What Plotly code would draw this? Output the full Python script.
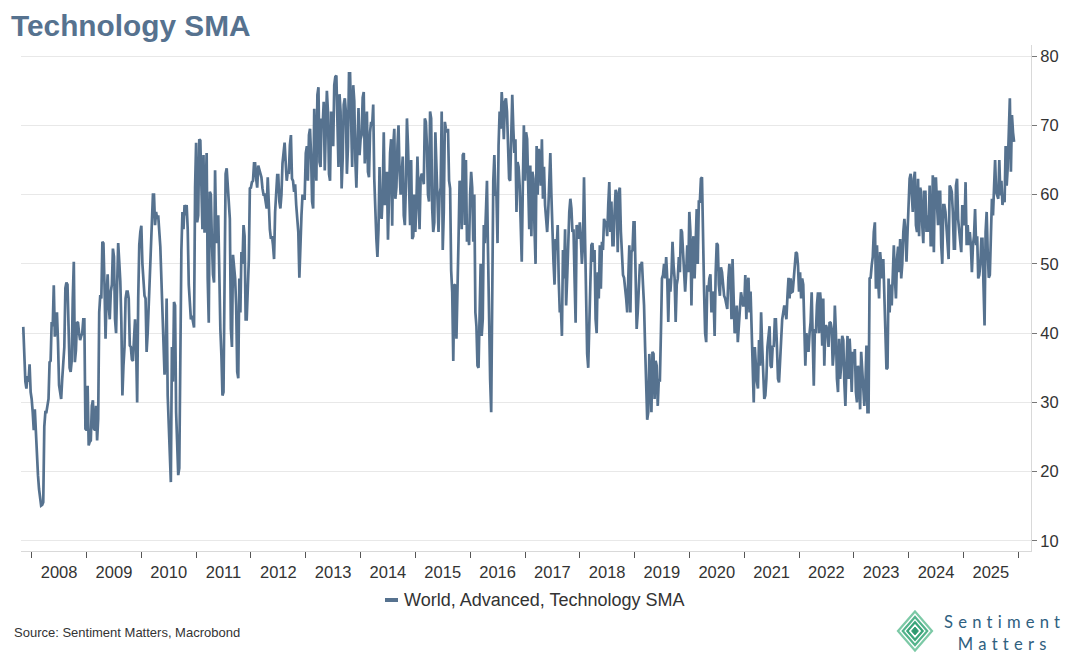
import plotly.graph_objects as go
import pandas as pd

# ---------------- data ----------------
years = list(range(2007, 2026))

# fortnightly readings (start of each fortnight)
v2007 = [40.9, 33.0, 33.8, 35.5]
v2008 = [30.5, 26.0, 25.5, 19.5, 16.2, 15.2, 26.5, 28.6, 30.5, 36.0, 41.0, 39.5, 43.0,
         32.5, 30.5, 36.0, 46.5, 47.0, 35.0, 36.0, 50.3, 37.5, 41.5, 39.0, 40.0, 42.0]
v2009 = [26.0, 23.8, 24.5, 30.3, 26.0, 24.5, 43.0, 45.0, 53.0, 39.2, 48.5, 42.0, 47.0,
         51.0, 40.0, 53.0, 47.5, 31.0, 38.0, 46.0, 45.0, 38.0, 36.0, 42.0, 30.0, 52.7]
v2010 = [55.5, 47.5, 45.0, 40.0, 50.0, 58.0, 60.0, 57.5, 57.0, 52.5, 44.0, 34.0, 45.0,
         27.0, 18.5, 33.0, 44.0, 22.0, 20.5, 52.0, 55.0, 57.0, 55.0, 45.0, 42.5, 40.8]
v2011 = [67.5, 57.0, 67.8, 55.0, 54.5, 66.0, 41.5, 60.0, 48.5, 63.5, 53.0, 47.0, 36.8,
         31.5, 63.0, 61.0, 56.5, 38.0, 50.0, 44.0, 33.5, 43.0, 50.0, 54.0, 42.0, 50.5]
v2012 = [61.0, 62.0, 64.5, 61.0, 63.5, 62.5, 60.0, 58.5, 62.5, 55.0, 54.0, 50.7, 60.0,
         62.8, 58.0, 64.5, 67.5, 62.0, 63.0, 68.6, 62.0, 61.5, 57.0, 48.0, 57.0, 59.4]
v2013 = [66.0, 62.0, 69.5, 59.0, 72.4, 62.0, 75.5, 64.0, 70.0, 63.5, 75.0, 63.0, 72.0,
         67.0, 77.0, 67.0, 74.5, 60.9, 73.0, 72.0, 67.0, 77.5, 64.0, 73.5, 61.0, 72.5]
v2014 = [68.0, 74.0, 64.5, 72.0, 62.5, 70.5, 73.0, 56.0, 51.0, 64.0, 56.5, 69.0, 60.0,
         53.5, 66.0, 55.5, 69.5, 61.0, 70.0, 60.0, 65.5, 55.6, 71.0, 60.5, 65.0, 54.0]
v2015 = [54.6, 65.5, 55.0, 63.0, 61.5, 70.5, 60.0, 72.0, 58.0, 56.0, 64.0, 54.6, 61.0,
         52.0, 70.5, 69.0, 62.0, 49.0, 36.0, 47.0, 45.0, 62.0, 55.0, 66.0, 65.0, 55.0]
v2016 = [60.0, 61.0, 60.0, 41.0, 35.0, 50.0, 42.0, 53.0, 62.0, 38.0, 28.6, 62.0, 60.0,
         53.0, 72.0, 74.8, 68.0, 73.9, 66.6, 62.0, 74.4, 66.0, 57.5, 64.0, 57.0, 61.0]
v2017 = [62.0, 68.0, 55.0, 54.0, 62.3, 50.0, 60.0, 65.0, 68.0, 64.0, 56.0, 57.5, 66.0,
         54.0, 47.0, 52.0, 47.5, 44.0, 52.0, 55.0, 48.0, 57.5, 58.0, 55.0, 41.5, 55.0]
v2018 = [56.0, 50.0, 62.5, 45.0, 35.0, 47.0, 53.0, 52.0, 40.0, 45.0, 46.4, 52.0, 56.0,
         54.0, 61.8, 59.0, 52.7, 60.7, 51.7, 61.0, 50.3, 48.0, 45.0, 50.0, 43.0, 52.0]
v2019 = [56.0, 40.6, 46.0, 49.8, 47.0, 38.0, 27.5, 37.0, 28.6, 37.0, 36.0, 29.5, 33.0,
         47.9, 50.0, 51.0, 41.6, 46.0, 53.2, 47.9, 47.0, 51.0, 55.0, 52.0, 46.0, 52.7]
v2020 = [57.5, 44.0, 54.0, 53.0, 50.0, 59.0, 62.5, 46.0, 38.7, 46.0, 48.5, 46.0, 39.6,
         53.0, 47.0, 49.5, 47.0, 45.0, 43.5, 50.0, 42.0, 46.0, 40.5, 38.7, 44.5, 45.0]
v2021 = [44.0, 42.0, 48.0, 46.0, 35.3, 38.0, 33.0, 39.0, 43.0, 33.4, 31.0, 38.0, 41.0,
         35.0, 38.0, 42.0, 33.4, 36.0, 42.0, 44.0, 42.0, 48.0, 47.9, 46.0, 50.7, 51.5]
v2022 = [46.0, 45.0, 47.0, 35.3, 39.0, 40.0, 45.9, 32.4, 40.0, 45.9, 45.9, 38.2, 35.3,
         41.0, 38.0, 41.5, 35.3, 44.0, 33.4, 39.2, 35.3, 39.0, 29.5, 39.6, 39.2, 31.5]
v2023 = [36.0, 31.5, 35.3, 29.0, 35.0, 29.5, 38.2, 28.6, 48.0, 51.0, 56.0, 52.7, 45.0,
         49.8, 50.7, 41.0, 35.0, 43.0, 44.0, 52.7, 45.0, 52.5, 53.6, 50.0, 56.5, 50.3]
v2024 = [58.5, 63.0, 57.5, 63.3, 54.6, 54.0, 60.4, 53.0, 60.4, 57.0, 61.3, 52.7, 51.7,
         62.3, 55.6, 60.4, 50.0, 58.5, 55.0, 50.7, 61.0, 57.5, 52.2, 62.3, 54.6, 51.7]
v2025 = [56.0, 61.8, 55.6, 54.6, 48.8, 54.0, 52.7, 47.9, 50.0, 53.6, 41.1, 57.5, 48.0,
         54.6, 57.0, 65.0, 60.0, 65.0, 62.0, 60.0, 67.0, 64.0, 73.9, 71.5, 67.6]

# mid-fortnight readings (one week after each reading above)
m2007 = [35.5, 32.0, 33.0, 31.5]
m2008 = [28.6, 29.0, 24.0, 17.5, 15.1, 15.6, 28.6, 29.5, 35.8, 41.6, 46.9, 41.6, 38.7,
         31.5, 33.4, 38.0, 47.3, 38.0, 34.4, 45.0, 35.8, 41.6, 40.0, 39.6, 42.0, 26.2]
m2009 = [32.4, 24.3, 29.5, 26.2, 29.5, 27.6, 45.5, 53.2, 47.0, 45.4, 44.0, 46.0, 52.2,
         42.0, 46.9, 50.3, 41.6, 35.3, 45.0, 46.0, 38.2, 36.2, 39.2, 38.0, 45.0, 54.6]
m2010 = [50.0, 45.4, 37.3, 44.0, 54.6, 60.0, 55.6, 56.5, 54.6, 47.9, 38.2, 36.0, 31.0,
         21.3, 38.0, 44.5, 28.6, 19.5, 38.2, 57.5, 58.5, 58.5, 47.0, 42.0, 41.6, 61.0]
m2011 = [56.0, 68.0, 61.3, 65.7, 60.0, 47.9, 60.4, 53.2, 47.3, 54.6, 57.0, 40.6, 31.0,
         52.7, 63.8, 60.0, 40.6, 51.3, 47.9, 34.4, 47.9, 51.7, 55.6, 42.0, 45.9, 60.9]
m2012 = [61.8, 64.5, 62.3, 64.2, 63.3, 60.9, 60.0, 58.0, 58.5, 53.6, 52.7, 57.5, 62.8,
         59.0, 60.0, 66.2, 64.7, 63.3, 67.1, 62.3, 60.4, 58.5, 54.6, 54.6, 60.0, 59.4]
m2013 = [67.0, 68.6, 65.7, 58.0, 67.0, 74.4, 64.7, 71.0, 73.4, 69.5, 72.0, 62.0, 69.5,
         75.8, 77.2, 64.0, 72.0, 65.2, 73.9, 63.0, 77.5, 67.1, 75.8, 65.0, 67.1, 65.7]
m2014 = [68.6, 74.8, 68.0, 63.3, 69.0, 70.0, 62.3, 53.6, 55.0, 57.5, 60.0, 58.5, 63.3,
         60.0, 68.0, 67.0, 59.4, 67.0, 63.3, 62.8, 57.0, 61.3, 67.0, 55.6, 53.6, 60.0]
m2015 = [58.5, 60.0, 62.3, 62.8, 71.0, 67.1, 59.0, 71.0, 54.6, 69.0, 58.5, 60.0, 72.0,
         57.5, 69.5, 69.5, 60.9, 45.9, 46.9, 39.2, 53.6, 61.3, 65.7, 55.6, 53.2, 52.7]
m2016 = [63.3, 53.2, 43.0, 35.3, 43.0, 39.6, 55.6, 57.5, 51.7, 33.4, 43.0, 65.7, 60.0,
         67.1, 69.5, 72.0, 73.4, 72.0, 62.3, 69.5, 69.5, 68.0, 64.7, 61.3, 50.3, 70.0]
m2017 = [69.0, 62.3, 64.2, 63.3, 55.0, 67.0, 66.6, 61.3, 59.4, 58.5, 54.6, 61.3, 60.0,
         50.3, 53.6, 55.6, 43.0, 39.6, 47.9, 44.0, 53.6, 59.4, 54.6, 47.9, 55.6, 53.6]
m2018 = [53.6, 52.7, 53.6, 37.0, 43.0, 52.7, 50.3, 42.0, 48.8, 52.7, 53.2, 56.5, 56.0,
         58.5, 54.6, 52.7, 57.5, 59.4, 60.4, 54.6, 48.4, 46.9, 43.0, 52.7, 51.7, 56.0]
m2019 = [47.9, 43.0, 49.8, 50.3, 44.0, 30.0, 28.6, 33.4, 37.3, 30.5, 35.3, 33.4, 40.0,
         48.4, 47.9, 47.9, 47.9, 48.4, 49.8, 41.6, 47.9, 48.8, 54.6, 50.3, 48.8, 48.8]
m2020 = [54.6, 52.7, 47.9, 57.9, 59.0, 62.3, 50.3, 40.0, 46.9, 47.9, 43.0, 45.4, 48.8,
         52.7, 45.4, 48.8, 45.4, 44.0, 47.9, 47.9, 50.7, 40.0, 44.0, 41.6, 45.9, 44.0]
m2021 = [48.4, 47.0, 43.0, 40.0, 30.0, 35.3, 32.0, 35.3, 38.2, 30.5, 33.4, 39.6, 35.3,
         38.2, 42.0, 38.2, 32.9, 39.2, 43.0, 43.0, 45.4, 45.0, 45.9, 47.9, 51.7, 49.8]
m2022 = [48.8, 47.9, 40.6, 40.0, 37.3, 41.6, 35.8, 40.6, 44.0, 40.0, 44.0, 45.0, 41.1,
         40.0, 41.6, 40.6, 37.3, 40.0, 31.5, 33.4, 39.6, 32.9, 35.3, 33.4, 36.3, 37.3]
m2023 = [37.7, 30.0, 33.9, 37.3, 33.4, 32.4, 28.6, 47.9, 49.8, 54.6, 46.4, 47.9, 51.7,
         47.9, 45.0, 34.8, 47.9, 47.0, 50.3, 47.9, 50.7, 48.8, 47.9, 54.6, 54.6, 54.6]
m2024 = [62.3, 60.0, 62.3, 55.6, 62.3, 61.0, 55.6, 60.4, 54.6, 54.6, 52.7, 62.8, 62.3,
         58.5, 60.4, 52.7, 58.5, 57.5, 53.6, 61.3, 60.4, 52.2, 61.3, 56.5, 52.7, 58.5]
m2025 = [55.6, 52.7, 52.7, 52.7, 52.7, 57.9, 54.0, 48.4, 53.6, 46.9, 54.6, 51.7, 48.4,
         59.4, 61.3, 60.4, 59.4, 59.9, 58.5, 58.9, 61.3, 69.5, 63.3, 69.0]

start_readings = [v2007, v2008, v2009, v2010, v2011, v2012, v2013, v2014, v2015, v2016,
                  v2017, v2018, v2019, v2020, v2021, v2022, v2023, v2024, v2025]
mid_readings = [m2007, m2008, m2009, m2010, m2011, m2012, m2013, m2014, m2015, m2016,
                m2017, m2018, m2019, m2020, m2021, m2022, m2023, m2024, m2025]

series_name = "World, Advanced, Technology SMA"
title_text = "Technology SMA"
source_text = "Source: Sentiment Matters, Macrobond"
logo_lines = ["Sentiment", "Matters"]
y_ticks = [10, 20, 30, 40, 50, 60, 70, 80]

# 26 fortnights per year (plus mid-fortnight readings); 2007 holds only its last weeks
STEP = 365.25 / 26
dates, values = [], []
for y, vs, ms in zip(years, start_readings, mid_readings):
    off = 26 - len(vs) if y == years[0] else 0
    base = pd.Timestamp(f"{y}-01-01")
    for k, v in enumerate(vs):
        dates.append(base + pd.Timedelta(days=(off + k) * STEP))
        values.append(v)
        if k < len(ms):
            dates.append(base + pd.Timedelta(days=(off + k + 0.5) * STEP))
            values.append(ms[k])

# ---------------- styling ----------------
W, H = 1072, 660
L, R, T, B = 21, 1031, 45, 551          # plot area in pixels
LINE = "#56728f"
FONT = "Liberation Sans, Arial, sans-serif"


def px(xp):
    return (xp - L) / (R - L)


def py(yp):
    return (B - yp) / (B - T)


fig = go.Figure()
fig.add_trace(go.Scatter(x=dates, y=values, mode="lines", name=series_name,
                         line=dict(color=LINE, width=2.7), showlegend=False))

fig.update_layout(
    width=W, height=H,
    margin=dict(l=L, r=W - R, t=T, b=H - B, pad=0),
    paper_bgcolor="white", plot_bgcolor="white",
    font=dict(family=FONT, color="#333333"),
    title=dict(text=f"<b>{title_text}</b>", font=dict(size=29.8, color=LINE, family=FONT),
               x=11 / W, xanchor="left", xref="container",
               y=1 - 25.5 / H, yanchor="middle", yref="container"),
    xaxis=dict(type="date", range=["2007-10-22", "2026-03-27"],
               tick0="2008-01-01", dtick="M12", ticklabelmode="period", tickformat="%Y",
               ticks="outside", ticklen=6, tickcolor="#555555", tickwidth=1,
               showline=True, linecolor="#d9d9d9", linewidth=1,
               showgrid=False, zeroline=False,
               tickfont=dict(size=16.5, color="#333333", family=FONT)),
    yaxis=dict(side="right", range=[8.55, 81.6], tickvals=y_ticks,
               ticks="outside", ticklen=5, tickcolor="#777777", tickwidth=1,
               showline=True, linecolor="#d9d9d9", linewidth=1,
               showgrid=True, gridcolor="#e8e8e8", gridwidth=1, zeroline=False,
               tickfont=dict(size=16.5, color="#333333", family=FONT)),
)

shapes = []
annotations = []

# legend (symbol + label)
shapes.append(dict(type="line", xref="paper", yref="paper",
                   x0=px(385), x1=px(398), y0=py(600), y1=py(600),
                   line=dict(color=LINE, width=4)))
annotations.append(dict(text=series_name, xref="paper", yref="paper",
                        x=px(402), y=py(600), xanchor="left", yanchor="middle",
                        showarrow=False, font=dict(size=18, color="#333333", family=FONT)))

# source
annotations.append(dict(text=source_text, xref="paper", yref="paper",
                        x=px(12), y=py(632), xanchor="left", yanchor="middle",
                        showarrow=False, font=dict(size=13, color="#333333", family=FONT)))

# logo: nested diamonds
cx, cy, hw, hh = 915, 631, 17, 19.5


def diamond(scale):
    w, h = hw * scale, hh * scale
    return (f"M {px(cx)} {py(cy - h)} L {px(cx + w)} {py(cy)} "
            f"L {px(cx)} {py(cy + h)} L {px(cx - w)} {py(cy)} Z")


for sc, col in [(1.0, "#7cc9a6"), (0.72, "#52b38b"), (0.45, "#3aa57a")]:
    shapes.append(dict(type="path", xref="paper", yref="paper", path=diamond(sc),
                       line=dict(color=col, width=2.2), fillcolor="rgba(0,0,0,0)"))
shapes.append(dict(type="path", xref="paper", yref="paper", path=diamond(0.2),
                   line=dict(color="#2f9a70", width=1), fillcolor="#2f9a70"))

# logo wordmark (letter-spaced, two centred lines in one text block)
sp = "\u2005\u200a"
logo_text = "<br>".join(sp.join(w) for w in logo_lines)
annotations.append(dict(text=logo_text, xref="paper", yref="paper",
                        x=px(1002), y=py(632.5), xanchor="center", yanchor="middle",
                        align="center", showarrow=False,
                        font=dict(size=16.6, color="#2f6080", family="Lato")))

fig.update_layout(shapes=shapes, annotations=annotations)
fig.write_html("out.html", config={"displayModeBar": False},
               post_script="document.body.style.margin='0';document.body.style.padding='0';")
